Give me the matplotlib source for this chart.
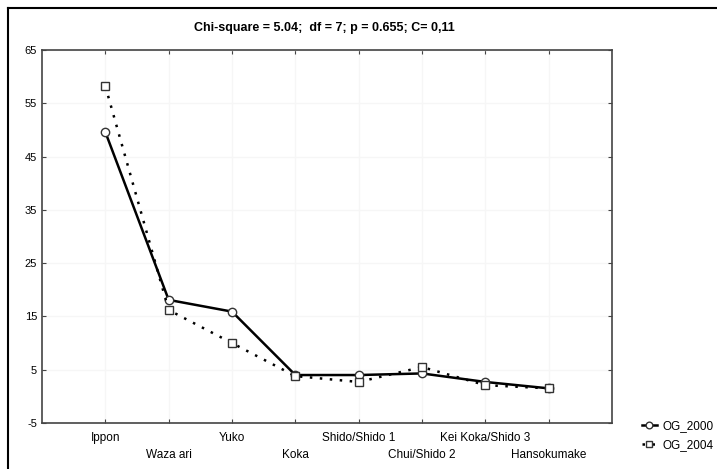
import numpy as np
import matplotlib.pyplot as plt
from matplotlib.lines import Line2D

categories = ['Ippon', 'Waza ari', 'Yuko', 'Koka', 'Shido/Shido 1',
              'Chui/Shido 2', 'Kei Koka/Shido 3', 'Hansokumake']
og_2000 = [49.6, 18.1, 15.9, 4.0, 4.0, 4.3, 2.7, 1.5]
og_2004 = [58.2, 16.2, 10.0, 3.8, 2.7, 5.5, 2.1, 1.5]
yticks = [-5, 5, 15, 25, 35, 45, 55, 65]
title = 'Chi-square = 5.04;  df = 7; p = 0.655; C= 0,11'

plt.rcParams['font.family'] = ['Liberation Sans Narrow', 'Liberation Sans', 'DejaVu Sans']

fig = plt.figure(figsize=(7.17, 4.69), dpi=100)
ax = fig.add_axes([0.0586, 0.0981, 0.795, 0.7953])

x = np.arange(1, len(categories) + 1)
l1, = ax.plot(x, og_2000, color='black', lw=1.8, marker='o', ms=6,
              mfc='white', mec='#333333', mew=1.0)
l2, = ax.plot(x, og_2004, color='black', lw=1.8, ls=(0, (1, 3)), marker='s', ms=6,
              mfc='white', mec='#333333', mew=1.0)

ax.set_xlim(0, 9)
ax.set_ylim(-5, 65)
ax.set_yticks(yticks)
ax.set_yticklabels([str(v) for v in yticks], fontsize=8)
ax.set_xticks(x)
ax.set_xticklabels([])
# category labels staggered on two rows
for i, lab in enumerate(categories):
    off = -0.025 if i % 2 == 0 else -0.07
    ax.text(x[i], off, lab, transform=ax.get_xaxis_transform(), ha='center', va='top',
            fontsize=8.5)

ax.tick_params(direction='in', top=True, right=True, length=3, width=0.8,
               labelsize=8, color='#444444')
for s in ax.spines.values():
    s.set_color('#444444')
    s.set_linewidth(1.2)
ax.grid(True, color='#f6f6f6', lw=1.0)
ax.set_axisbelow(True)

fig.text(0.452, 0.94, title, ha='center', va='center', fontsize=9, fontweight='bold')

fig.legend([l1, l2], ['OG_2000', 'OG_2004'], loc='lower left',
           bbox_to_anchor=(0.88, 0.015), frameon=False, fontsize=8.5,
           handlelength=1.3, handletextpad=0.5, markerscale=0.8, labelspacing=0.6)

# outer frame (top and left edges visible)
fig.add_artist(Line2D([0.011, 1.0], [0.983, 0.983], color='black', lw=1.5,
                      transform=fig.transFigure))
fig.add_artist(Line2D([0.011, 0.011], [0.0, 0.983], color='black', lw=1.5,
                      transform=fig.transFigure))

fig.savefig('out.png', dpi=100)
